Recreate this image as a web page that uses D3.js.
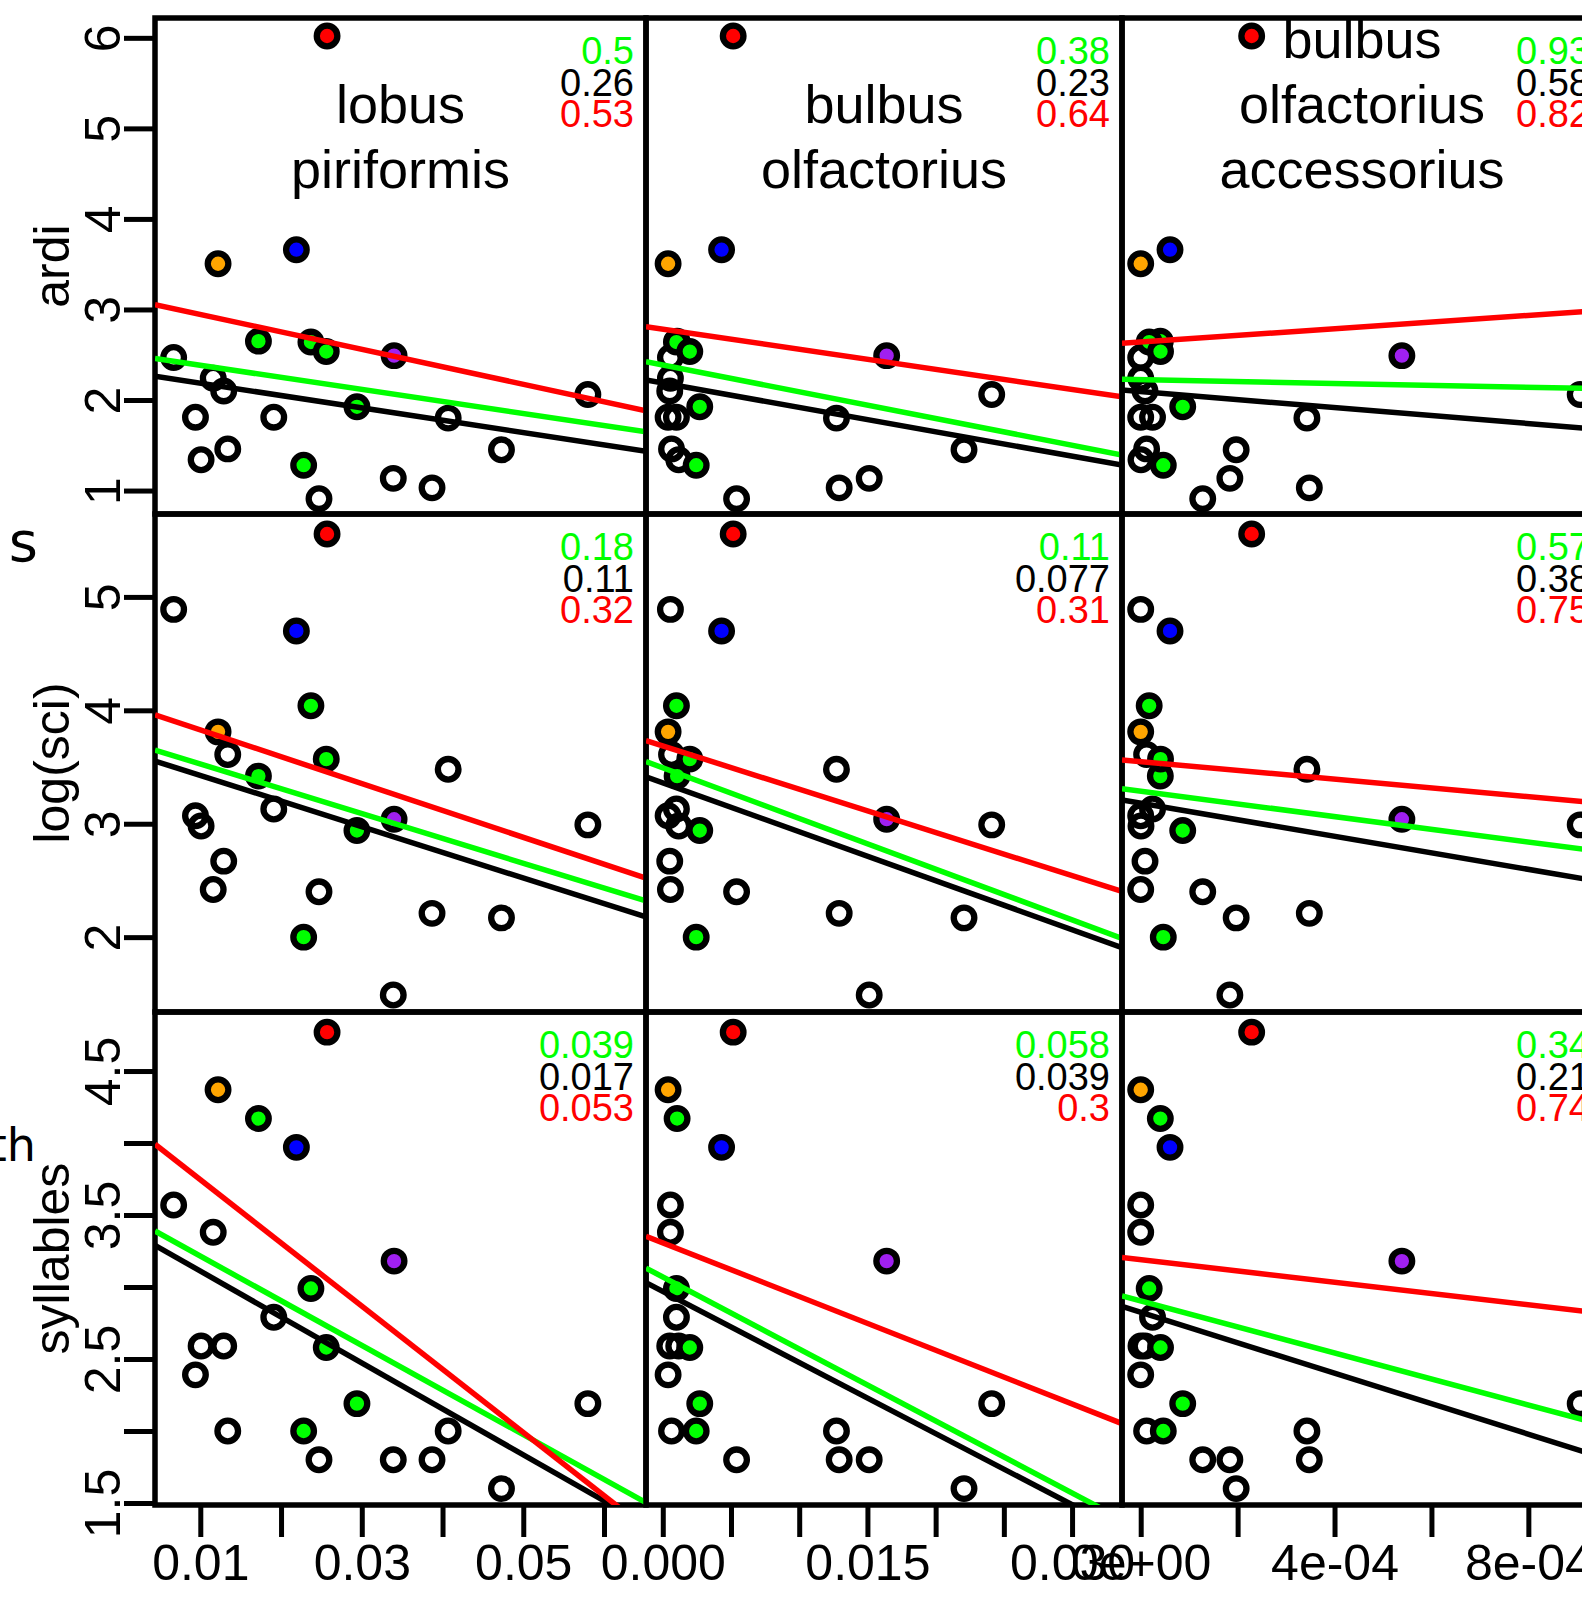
<!DOCTYPE html>
<html>
<head>
<meta charset="utf-8">
<script src="https://cdn.jsdelivr.net/npm/d3@7"></script>
<style>
body{margin:0;background:#fff}
svg{display:block}
text{font-family:"Liberation Sans",Arial,Helvetica,sans-serif}
</style>
</head>
<body>
<div id="chart"></div>
<script>
// column variables (x) and row variables (y)
const colTitles=["lobus\npiriformis","bulbus\nolfactorius","bulbus\nolfactorius\naccessorius"]
const rowLabels=["ardi","log(sci)","syllables"]

// one entry per species, open circles first, coloured ones after
const pointFill=[null,null,null,null,null,null,null,null,null,null,null,null,null,
	"#00FF00","#00FF00","#00FF00","#00FF00","#00FF00",
	"#FF0000","#0000FF","#FFA500","#A020F0"]
const lobusPiriformis=[0.0067,0.0116,0.0129,0.0094,0.0191,0.0407,0.0580,0.0134,0.0101,0.0473,0.0339,0.0387,0.0247,
	0.0172,0.0237,0.0256,0.0294,0.0228, 0.0257,0.0219,0.0122,0.0340]
const bulbusOlfactorius=[0.00056,0.00056,0.00051,0.00039,0.00100,0.01273,0.02411,0.00064,0.00117,0.02208,0.01513,0.01293,0.00541,
	0.00105,0.00100,0.00198,0.00271,0.00245, 0.00516,0.00431,0.00039,0.01641]
const bulbusAccessorius=[0,0,0.0000089,0,0.0000244,0.000343,0.000907,0.0000122,0.0000006,0.000197,0.000184,0.000348,0.000128,
	0.0000405,0.0000175,0.0000409,0.0000867,0.0000466, 0.000229,0.0000605,0,0.000539]
const ardi=[2.47,2.24,2.10,1.81,1.81,1.80,2.06,1.46,1.34,1.45,1.135,1.03,0.91,
	2.65,2.64,2.535,1.925,1.28, 6.02,3.66,3.505,2.49]
const logSci=[4.89,2.42,2.67,3.07,3.13,3.48,2.99,3.61,2.98,2.17,1.49,2.21,2.40,
	3.42,4.04,3.57,2.94,2.00, 5.555,4.70,3.81,3.04]
const syllables=[3.57,3.38,2.59,2.39,2.79,2.00,2.19,2.00,2.59,1.60,1.80,1.80,1.80,
	4.17,2.99,2.58,2.19,2.00, 4.77,3.97,4.37,3.18]

// axis limits (plot region) per column / row
const colXLim=[[0.00439,0.0652],[-0.00123,0.03366],[-0.0000386,0.000952]]
const rowYLim=[[0.741,6.219],[1.340,5.731],[1.486,4.910]]

// ticks
const xTicks=[[0.01,0.02,0.03,0.04,0.05,0.06],[0,0.005,0.01,0.015,0.02,0.025,0.03],[0,0.0002,0.0004,0.0006,0.0008]]
const xTickLabels=[{0.01:"0.01",0.03:"0.03",0.05:"0.05"},{0:"0.000",0.015:"0.015",0.03:"0.030"},{0:"0e+00",0.0004:"4e-04",0.0008:"8e-04"}]
const yTicks=[[1,2,3,4,5,6],[2,3,4,5],[1.5,2,2.5,3,3.5,4,4.5]]
const yTickLabels=[{1:"1",2:"2",3:"3",4:"4",5:"5",6:"6"},{2:"2",3:"3",4:"4",5:"5"},{1.5:"1.5",2.5:"2.5",3.5:"3.5",4.5:"4.5"}]

// fitted lines per panel (row major): [intercept, slope]
const blackFits=[[2.322,-13.63],[2.187,-26.90],[2.093,-441.3],
	[3.652,-22.61],[3.361,-43.17],[3.181,-728.9],
	[3.430,-31.91],[2.969,-49.35],[2.824,-1057.5]]
const greenFits=[[2.516,-13.30],[2.386,-29.50],[2.225,-105.3],
	[3.746,-21.89],[3.493,-44.66],[3.287,-560.4],
	[3.525,-31.01],[3.070,-50.02],[2.903,-903.2]]
const redFits=[[3.138,-19.29],[2.782,-22.17],[2.640,367.6],
	[4.065,-23.70],[3.686,-38.13],[3.547,-385.5],
	[4.184,-43.88],[3.307,-37.30],[3.190,-391.8]]

// p values per panel (row major)
const pGreen=["0.5","0.38","0.93","0.18","0.11","0.57","0.039","0.058","0.34"]
const pBlack=["0.26","0.23","0.58","0.11","0.077","0.38","0.017","0.039","0.21"]
const pRed=["0.53","0.64","0.82","0.32","0.31","0.75","0.053","0.3","0.74"]

const xVals=[lobusPiriformis,bulbusOlfactorius,bulbusAccessorius]
const yVals=[ardi,logSci,syllables]

const W=1582, H=1602
const colEdges=[155,646,1122,1602]
const rowEdges=[18,514,1012,1505]

const svg=d3.select("#chart").append("svg")
	.attr("width",W).attr("height",H)
	.style("background","#fff")

const xScales=colXLim.map((d,c)=>d3.scaleLinear().domain(d).range([colEdges[c],colEdges[c+1]]))
const yScales=rowYLim.map((d,r)=>d3.scaleLinear().domain(d).range([rowEdges[r+1],rowEdges[r]]))

const defs=svg.append("defs")

for(let r=0;r<3;++r)
{
	for(let c=0;c<3;++c)
	{
		let k=r*3+c
		let x=xScales[c], y=yScales[r]
		let g=svg.append("g")

		defs.append("clipPath").attr("id","clip"+k)
			.append("rect")
			.attr("x",colEdges[c]).attr("y",rowEdges[r])
			.attr("width",colEdges[c+1]-colEdges[c]).attr("height",rowEdges[r+1]-rowEdges[r])

		g.append("rect")
			.attr("x",colEdges[c]).attr("y",rowEdges[r])
			.attr("width",colEdges[c+1]-colEdges[c]).attr("height",rowEdges[r+1]-rowEdges[r])
			.attr("fill","none").attr("stroke","black").attr("stroke-width",5.5)

		// points
		g.selectAll("circle").data(d3.range(pointFill.length)).join("circle")
			.attr("cx",i=>x(xVals[c][i]))
			.attr("cy",i=>y(yVals[r][i]))
			.attr("r",10.3)
			.attr("fill",i=>pointFill[i]||"none")
			.attr("stroke","black")
			.attr("stroke-width",6.3)

		// fitted lines
		let fits=[[blackFits[k],"black"],[greenFits[k],"#00FF00"],[redFits[k],"#FF0000"]]
		let lg=g.append("g").attr("clip-path","url(#clip"+k+")")
		fits.forEach(([f,col])=>{
			let [x0,x1]=x.domain()
			lg.append("line")
				.attr("x1",x(x0)).attr("y1",y(f[0]+f[1]*x0))
				.attr("x2",x(x1)).attr("y2",y(f[0]+f[1]*x1))
				.attr("stroke",col).attr("stroke-width",5.5)
		})

		// p values
		let px=colEdges[c+1]-12
		;[[pGreen[k],"#00FF00"],[pBlack[k],"black"],[pRed[k],"#FF0000"]].forEach(([t,col],j)=>{
			g.append("text")
				.attr("x",px).attr("y",rowEdges[r]+46+j*31.5)
				.attr("text-anchor","end")
				.attr("fill",col)
				.style("font-size","38px")
				.text(t)
		})
	}
}

// column titles (top row)
colTitles.forEach((t,c)=>{
	let lines=t.split("\n")
	let cx=(colEdges[c]+colEdges[c+1])/2
	lines.forEach((l,j)=>{
		svg.append("text")
			.attr("x",cx)
			.attr("y",188-(lines.length-1-j)*64.8)
			.attr("text-anchor","middle")
			.style("font-size","54px")
			.text(l)
	})
})

// y axes on the left column
for(let r=0;r<3;++r)
{
	let ax=d3.axisLeft(yScales[r]).tickValues(yTicks[r]).tickSize(31).tickSizeOuter(0)
		.tickFormat(v=>yTickLabels[r][v]||"")
	let ga=svg.append("g").attr("transform",`translate(${colEdges[0]},0)`).call(ax)
	ga.select(".domain").remove()
	ga.selectAll(".tick line").attr("stroke","black").attr("stroke-width",5)
	ga.selectAll(".tick text")
		.attr("x",0).attr("y",-35).attr("dy",null)
		.attr("transform","rotate(-90)")
		.attr("text-anchor","middle")
		.attr("fill","black")
		.style("font-size","50px")
		.style("font-family",'"Liberation Sans",Arial,Helvetica,sans-serif')

	svg.append("text")
		.attr("transform",`translate(69,${(rowEdges[r]+rowEdges[r+1])/2}) rotate(-90)`)
		.attr("text-anchor","middle")
		.style("font-size","50px")
		.text(rowLabels[r])
}

// x axes on the bottom row
for(let c=0;c<3;++c)
{
	let ax=d3.axisBottom(xScales[c]).tickValues(xTicks[c]).tickSize(32).tickSizeOuter(0)
		.tickFormat(v=>xTickLabels[c][v]||"")
	let ga=svg.append("g").attr("transform",`translate(0,${rowEdges[3]})`).call(ax)
	ga.select(".domain").remove()
	ga.selectAll(".tick line").attr("stroke","black").attr("stroke-width",5)
	ga.selectAll(".tick text")
		.attr("y",75).attr("dy",null)
		.attr("fill","black")
		.style("font-size","50px")
		.style("font-family",'"Liberation Sans",Arial,Helvetica,sans-serif')
}

// fragments of outer labels cut by the crop
svg.append("text").attr("x",38).attr("y",561).attr("text-anchor","end")
	.style("font-size","56px").style("font-family",'"DejaVu Sans",sans-serif').text("s")
svg.append("text").attr("x",36).attr("y",1161).attr("text-anchor","end")
	.style("font-size","46px").style("font-family",'"DejaVu Sans",sans-serif').text("th")
</script>
</body>
</html>
